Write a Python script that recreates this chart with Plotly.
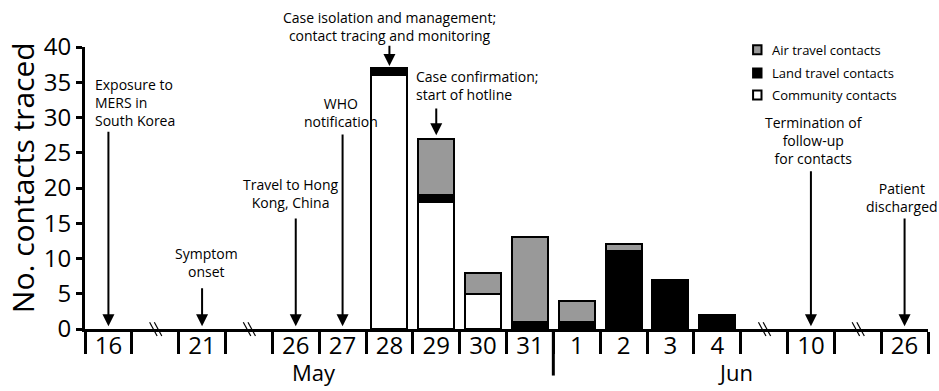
import plotly.graph_objects as go

# ---- data ----
slot_labels = ["16", "", "21", "", "26", "27", "28", "29", "30", "31",
               "1", "2", "3", "4", "", "10", "", "26"]
break_slots = [1, 3, 14, 16]
month_names = ["May", "Jun"]
month_bounds = [(0, 10), (10, 18)]

bar_slots = [6, 7, 8, 9, 10, 11, 12, 13]          # 28 May ... 4 Jun
community = [36, 18, 5, 0, 0, 0, 0, 0]
land = [1, 1, 0, 1, 1, 11, 7, 2]
air = [0, 8, 3, 12, 3, 1, 0, 0]
series_names = ["Air travel contacts", "Land travel contacts", "Community contacts"]
series_colors = ["#999999", "#000000", "#ffffff"]

event_slots = [0, 2, 4, 5, 6, 7, 15, 17]
event_texts = [
    "Exposure to<br>MERS in<br>South Korea",
    "Symptom<br>onset",
    "Travel to Hong<br>Kong, China",
    "WHO<br>notification",
    "Case isolation and management;<br>contact tracing and monitoring",
    "Case confirmation;<br>start of hotline",
    "Termination of<br>follow-up<br>for contacts",
    "Patient<br>discharged",
]

FONT = "Open Sans"
YMAX = 40

def nz(v):
    return [x if x else None for x in v]

centers = [s + 0.5 for s in bar_slots]

fig = go.Figure()
for name, vals, col in [("Community contacts", community, "#ffffff"),
                        ("Land travel contacts", land, "#000000"),
                        ("Air travel contacts", air, "#999999")]:
    fig.add_trace(go.Bar(x=centers, y=nz(vals), name=name, width=0.77,
                         marker=dict(color=col, line=dict(color="black", width=2)),
                         showlegend=False))

# invisible trace for the label axis
fig.add_trace(go.Scatter(x=[0.5], y=[None], xaxis="x2", showlegend=False,
                         hoverinfo="skip"))

fig.update_layout(
    width=939, height=391,
    margin=dict(l=85, r=11, t=47, b=62),
    plot_bgcolor="white", paper_bgcolor="white",
    barmode="stack", bargap=0,
    font=dict(family=FONT, color="black"),
    xaxis=dict(range=[0, 18], tickvals=list(range(19)), showticklabels=False,
               ticks="outside", ticklen=22, tickwidth=3, tickcolor="black",
               showline=True, linewidth=3, linecolor="black", showgrid=False,
               zeroline=False, fixedrange=True),
    xaxis2=dict(range=[0, 18], overlaying="x", anchor="y", side="bottom",
                tickvals=[i + 0.5 for i in range(18)], ticktext=slot_labels,
                ticks="", showline=False, showgrid=False, zeroline=False,
                tickfont=dict(size=24, family=FONT)),
    yaxis=dict(range=[0, YMAX], tickvals=list(range(0, 41, 5)),
               ticks="outside", ticklen=6, tickwidth=3, tickcolor="black",
               showline=True, linewidth=3, linecolor="black", showgrid=False,
               zeroline=False, tickfont=dict(size=24, family=FONT)),
)

shapes = []
# axis break marks
for s in break_slots:
    c = s + 0.5
    for off in (-0.02, 0.08):
        shapes.append(dict(type="line", xref="x", yref="paper",
                           x0=c - 0.1 + off, x1=c + 0.06 + off,
                           y0=0.024, y1=-0.025,
                           line=dict(color="black", width=1.2)))
# month separator
shapes.append(dict(type="line", xref="x", yref="paper", x0=10, x1=10,
                   y0=0, y1=-0.165, line=dict(color="black", width=3)))

# legend (manual)
leg_y = [0.99, 0.908, 0.83]
for name, col, yy in zip(series_names, series_colors, leg_y):
    shapes.append(dict(type="rect", xref="paper", yref="paper",
                       x0=0.7925, x1=0.8025, y0=yy - 0.016, y1=yy + 0.016,
                       fillcolor=col, line=dict(color="black", width=2)))
fig.update_layout(shapes=shapes)

ann = []
# y-axis title
ann.append(dict(xref="paper", yref="paper", x=-0.0747, y=0.535,
                text="No. contacts traced", textangle=-90, showarrow=False,
                xanchor="center", yanchor="middle", font=dict(size=30, family=FONT)))
for name, yy in zip(series_names, leg_y):
    ann.append(dict(xref="paper", yref="paper", x=0.812, y=yy, text=name,
                    showarrow=False, xanchor="left", yanchor="middle",
                    font=dict(size=13, family=FONT)))
# month labels
for name, (a, b) in zip(month_names, month_bounds):
    ann.append(dict(xref="x", yref="paper", x=(a + b) / 2 - 0.1, y=-0.212, text=name,
                    showarrow=False, yanchor="bottom", font=dict(size=22, family=FONT)))

# event arrows: (tail y, tip y)
arrow_y = [(28.2, 0.4), (6.0, 0.4), (15.9, 0.4), (27.8, 0.4),
           (40.4, 37.3), (31.5, 27.5), (22.6, 0.4), (15.9, 0.4)]
# text placement: (x, y, xanchor, align)
text_pos = [(0.17, 32.1, "left", "left"), (2.6, 9.4, "center", "center"),
            (4.4, 19.2, "center", "center"), (5.47, 30.7, "center", "center"),
            (6.51, 42.9, "center", "center"), (7.03, 34.6, "left", "left"),
            (15.57, 26.8, "center", "center"), (17.45, 18.6, "center", "center")]
for s, txt, (ty, hy), (tx, tyy, xa, al) in zip(event_slots, event_texts, arrow_y, text_pos):
    c = s + 0.5
    ann.append(dict(xref="x", yref="y", x=c, y=hy, ax=c, ay=ty,
                    axref="x", ayref="y", text="", showarrow=True,
                    arrowhead=2, arrowsize=1.2, arrowwidth=2, arrowcolor="black"))
    ann.append(dict(xref="x", yref="paper", x=tx, y=tyy / YMAX, text=txt,
                    showarrow=False, xanchor=xa, yanchor="middle", align=al,
                    font=dict(size=14, family=FONT)))
fig.update_layout(annotations=ann)

fig.write_html("out.html", config={"displayModeBar": False},
               post_script="document.body.style.margin='0';")
